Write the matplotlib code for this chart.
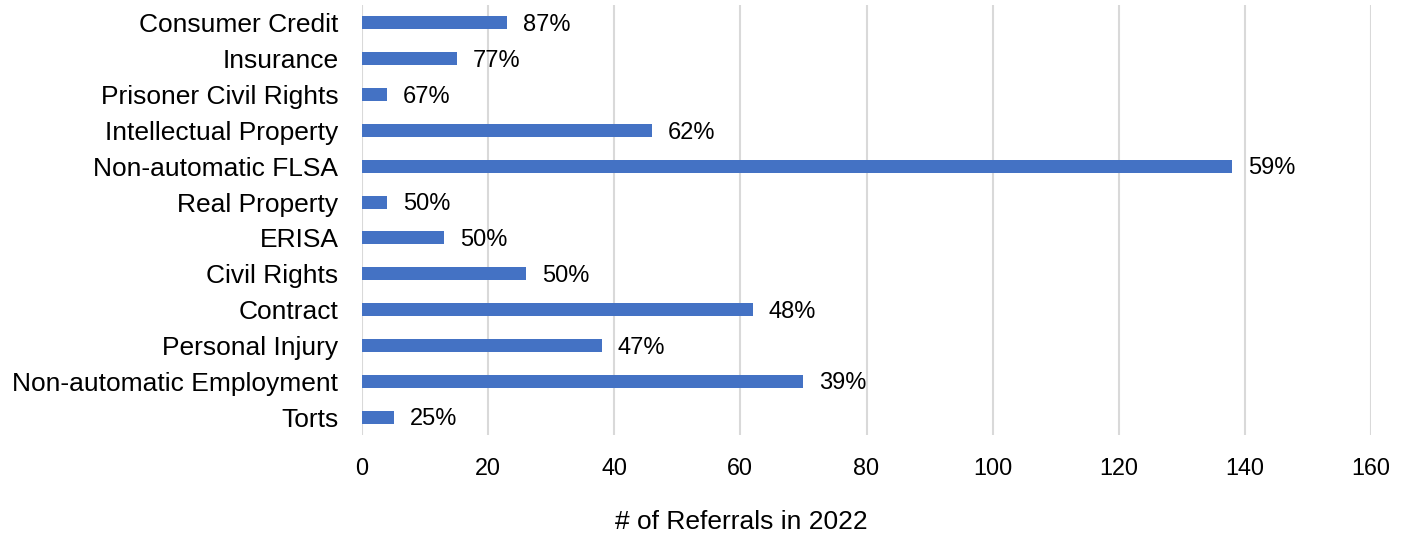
import matplotlib.pyplot as plt

plt.rcParams["font.family"] = ["Liberation Sans", "DejaVu Sans"]

# Data (top to bottom as shown)
categories = [
    "Consumer Credit",
    "Insurance",
    "Prisoner Civil Rights",
    "Intellectual Property",
    "Non-automatic FLSA",
    "Real Property",
    "ERISA",
    "Civil Rights",
    "Contract",
    "Personal Injury",
    "Non-automatic Employment",
    "Torts",
]
referrals = [23, 15, 4, 46, 138, 4, 13, 26, 62, 38, 70, 5]
pct_labels = ["87%", "77%", "67%", "62%", "59%", "50%",
              "50%", "50%", "48%", "47%", "39%", "25%"]
x_ticks = [0, 20, 40, 60, 80, 100, 120, 140, 160]

fig = plt.figure(figsize=(14.07, 5.33), dpi=100)
ax = fig.add_axes([362 / 1407, 1 - 435 / 533, (1371 - 362) / 1407, 430 / 533])

n = len(categories)
ypos = list(range(n))[::-1]

ax.barh(ypos, referrals, height=0.36, color="#4472C4", zorder=3)

# percentage labels next to each bar
for y, v, lab in zip(ypos, referrals, pct_labels):
    ax.annotate(lab, xy=(v, y), xytext=(11.5, -1.5), textcoords="offset points",
                va="center", ha="left", fontsize=17, color="#000000")

ax.set_xlim(0, 160)
ax.set_ylim(-0.5, n - 0.5)
ax.set_xticks(x_ticks)
ax.set_yticks(ypos)
ax.set_yticklabels(categories)
ax.tick_params(axis="both", length=0, colors="#000000")
ax.tick_params(axis="x", pad=16, labelsize=16.8)
ax.tick_params(axis="y", pad=17, labelsize=19)

ax.grid(axis="x", color="#D9D9D9", linewidth=1.5, zorder=0)
for s in ax.spines.values():
    s.set_visible(False)

fig.text(741 / 1407, 1 - 522 / 533, "# of Referrals in 2022",
         ha="center", va="center", fontsize=19)

fig.savefig("out.png", dpi=100, facecolor="white")
